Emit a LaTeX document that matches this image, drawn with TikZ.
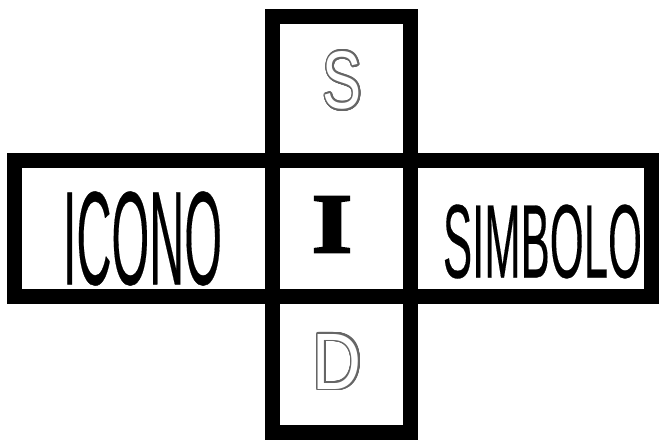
\documentclass[tikz,border=0pt]{standalone}
\usepackage{graphicx}
\usepackage{fontspec}
\usepackage[copies]{contour}
\contourlength{0.22pt}
\contournumber{32}
\setmainfont{Liberation Sans}
\newfontfamily\wordfont[FakeBold=0.3]{Liberation Sans}
\newfontfamily\serifheavy[FakeBold=3]{Liberation Serif Bold}
\newcommand{\outlinetext}[1]{\contour{black!60}{\color{white}#1}}
\tikzset{
  frame/.style={draw=black, line width=15pt, rectangle, inner sep=0pt},
  lbl/.style={inner sep=0pt, anchor=center}
}
\begin{document}
\begin{tikzpicture}[x=1pt,y=-1pt]
\useasboundingbox[fill=white] (0,0) rectangle (661,440);
\node[frame, minimum width=637pt, minimum height=136.5pt] (horiz) at (333,228.25) {};
\node[frame, minimum width=138pt, minimum height=416pt] (vert) at (341.5,224.5) {};
\node[lbl] (s) at (342.5,81.5) {\resizebox{39pt}{57pt}{\outlinetext{S}}};
\node[lbl] (d) at (337.5,362.5) {\resizebox{49pt}{55pt}{\outlinetext{D}}};
\node[lbl] (icono) at (142.5,238.5) {\resizebox{159pt}{93pt}{\wordfont ICONO}};
\node[lbl] (simbolo) at (542.5,241.5) {\resizebox{199pt}{73pt}{\wordfont SIMBOLO}};
\node[lbl] (i) at (332,224.5) {\resizebox{40pt}{55pt}{\serifheavy I}};
\end{tikzpicture}
\end{document}
